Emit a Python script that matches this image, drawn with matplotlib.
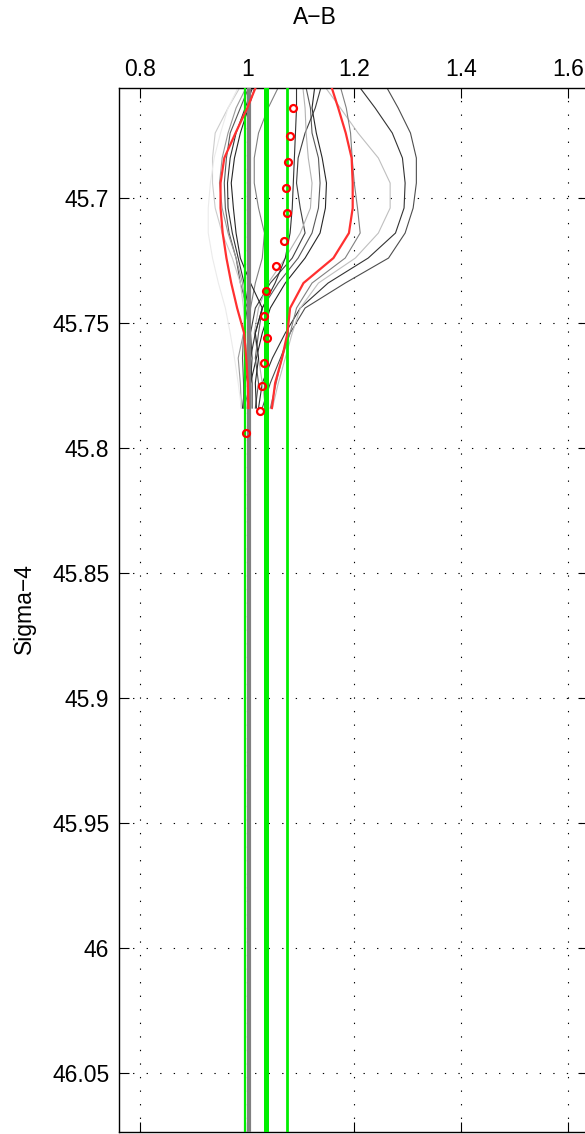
import matplotlib
matplotlib.use("Agg")
import matplotlib.pyplot as plt

# ---- data ----
levels = [45.644, 45.654, 45.664, 45.674, 45.684, 45.694, 45.704, 45.714,
          45.724, 45.734, 45.744, 45.754, 45.764, 45.774, 45.784]

profiles = {
    "A": [1.183, 1.204, 1.239, 1.271, 1.290, 1.295, 1.293, 1.277, 1.226, 1.151, 1.099, 1.071, 1.047, 1.028, 1.021],
    "B": [1.234, 1.256, 1.282, 1.305, 1.316, 1.316, 1.310, 1.295, 1.264, 1.183, 1.108, 1.080, 1.062, 1.043, 1.028],
    "C": [1.118, 1.140, 1.174, 1.207, 1.245, 1.267, 1.267, 1.245, 1.202, 1.133, 1.099, 1.084, 1.071, 1.058, 1.047],
    "D": [1.164, 1.172, 1.185, 1.193, 1.196, 1.200, 1.206, 1.211, 1.183, 1.121, 1.092, 1.080, 1.065, 1.054, 1.043],
    "E": [1.133, 1.127, 1.121, 1.129, 1.140, 1.148, 1.146, 1.136, 1.108, 1.071, 1.043, 1.028, 1.017, 1.006, 1.000],
    "F": [1.099, 1.108, 1.118, 1.121, 1.133, 1.136, 1.133, 1.121, 1.095, 1.058, 1.028, 1.021, 1.015, 1.021, 1.015],
    "G": [1.146, 1.140, 1.127, 1.108, 1.095, 1.092, 1.099, 1.108, 1.084, 1.043, 1.015, 1.006, 1.009, 1.006, 0.994],
    "H": [1.092, 1.103, 1.108, 1.110, 1.114, 1.121, 1.118, 1.099, 1.071, 1.039, 1.021, 1.013, 1.021, 1.028, 1.034],
    "I": [1.092, 1.092, 1.092, 1.090, 1.088, 1.086, 1.084, 1.080, 1.071, 1.052, 1.028, 1.015, 1.006, 0.996, 0.991],
    "J": [1.071, 1.062, 1.039, 1.021, 1.013, 1.013, 1.021, 1.032, 1.028, 1.015, 1.006, 1.002, 0.998, 0.994, 0.993],
    "K": [1.028, 1.013, 0.996, 0.979, 0.968, 0.963, 0.964, 0.972, 0.983, 0.994, 1.002, 1.006, 1.006, 1.009, 1.009],
    "L": [1.021, 1.006, 0.987, 0.968, 0.961, 0.957, 0.959, 0.966, 0.979, 0.987, 1.000, 0.993, 0.991, 0.993, 0.994],
    "M": [1.034, 1.017, 1.002, 0.987, 0.976, 0.970, 0.974, 0.979, 0.987, 1.006, 1.028, 1.015, 1.021, 1.015, 1.017],
    "N": [1.015, 1.002, 0.979, 0.964, 0.953, 0.948, 0.953, 0.964, 0.979, 0.991, 0.996, 0.993, 0.983, 0.987, 0.989],
    "O": [1.006, 0.991, 0.964, 0.940, 0.935, 0.935, 0.940, 0.953, 0.972, 0.987, 0.993, 0.996, 0.998, 0.996, 0.998],
    "P": [1.006, 0.987, 0.964, 0.950, 0.938, 0.931, 0.927, 0.927, 0.935, 0.946, 0.959, 0.968, 0.976, 0.983, 0.989],
}
profile_grey = {"A": 0.2, "B": 0.3, "C": 0.75, "D": 0.5, "E": 0.15, "F": 0.35,
                "G": 0.25, "H": 0.7, "I": 0.2, "J": 0.5, "K": 0.2, "L": 0.35,
                "M": 0.15, "N": 0.6, "O": 0.8, "P": 0.92}

red_left = [1.039, 1.019, 1.000, 0.978, 0.957, 0.950, 0.950, 0.954, 0.961, 0.970, 0.981, 0.994, 0.998, 1.001, 1.002]
red_right = [1.142, 1.155, 1.170, 1.184, 1.195, 1.197, 1.197, 1.190, 1.161, 1.105, 1.080, 1.075, 1.065, 1.052, 1.046]

circ_x = [1.085, 1.080, 1.077, 1.073, 1.074, 1.069, 1.054, 1.035, 1.031, 1.037, 1.032, 1.028, 1.024, 0.997]
circ_y = [45.664, 45.675, 45.6855, 45.696, 45.706, 45.717, 45.727, 45.737, 45.747, 45.756, 45.766, 45.775, 45.785, 45.794]

vlines_x = [0.995, 1.035, 1.075, 1.0035]
vlines_col = ["#00ee00", "#00ee00", "#00ee00", "#808080"]
vlines_w = [1.6, 3.6, 2.0, 3.0]

xticks = [0.8, 1.0, 1.2, 1.4, 1.6]
xticklabels = ["0.8", "1", "1.2", "1.4", "1.6"]
yticks = [45.7, 45.75, 45.8, 45.85, 45.9, 45.95, 46.0, 46.05]
yticklabels = ["45.7", "45.75", "45.8", "45.85", "45.9", "45.95", "46", "46.05"]

# ---- figure ----
plt.rcParams['font.family'] = ['Liberation Sans', 'DejaVu Sans']
W, H = 585, 1134
fig = plt.figure(figsize=(W / 100, H / 100), dpi=100)
left, right, top, bottom = 119, 588, 88, 1132
ax = fig.add_axes([left / W, 1 - bottom / H, (right - left) / W, (bottom - top) / H])

for k, xs in profiles.items():
    g = profile_grey[k]
    ax.plot(xs, levels, color=(g, g, g), lw=0.8, zorder=2)

for x, c, w in zip(vlines_x, vlines_col, vlines_w):
    ax.axvline(x, color=c, lw=w, zorder=3)

ax.plot(red_left, levels, color="#ff3030", lw=1.6, zorder=4)
ax.plot(red_right, levels, color="#ff3030", lw=1.6, zorder=4)
ax.plot(circ_x, circ_y, ls="none", marker="o", ms=5, mfc="none",
        mec="red", mew=1.6, zorder=5)

ax.set_xlim(0.7602, 1.6 + (right - 568.3) / 535)
ax.set_ylim(46.0735, 45.656)

ax.xaxis.tick_top()
ax.set_xticks(xticks)
ax.set_xticklabels(xticklabels)
ax.set_yticks(yticks)
ax.set_yticklabels(yticklabels)
ax.tick_params(axis='both', which='both', direction='in', length=7.5, width=0.8,
               labelsize=16.5, top=True, bottom=True, left=True, right=True)
ax.tick_params(axis='x', pad=5)
ax.tick_params(axis='y', pad=7)
ax.grid(True, color='black', lw=0.8, ls=(0, (1.2, 11)))
for s in ax.spines.values():
    s.set_linewidth(1.0)

fig.text(315 / W, 1 - 18 / H, "A\u2212B", ha='center', va='center', fontsize=16.5)
fig.text(24 / W, 1 - 609 / H, "Sigma\u22124", ha='center', va='center',
         rotation=90, fontsize=16.5)

fig.savefig("out.png", dpi=100)
